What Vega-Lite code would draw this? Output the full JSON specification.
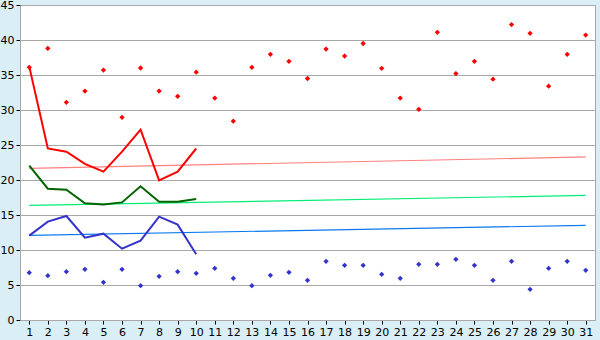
{
  "$schema": "https://vega.github.io/schema/vega-lite/v6.json",
  "width": 575,
  "height": 315,
  "autosize": {"type": "none"},
  "padding": {"left": 20, "top": 5, "right": 5, "bottom": 20},
  "background": "#d9eef5",
  "config": {
    "view": {"fill": "white", "stroke": "#a8a8a8", "strokeWidth": 1},
    "axis": {"labelFont": "DejaVu Sans", "labelFontSize": 11, "labelColor": "#000000", "domainColor": "#a8a8a8", "tickColor": "#000000", "tickSize": 4, "gridColor": "#a8a8a8", "gridOpacity": 1, "title": null, "labelOverlap": false},
    "axisY": {"tickCount": 9, "labelFlush": false, "labelPadding": 2}
  },
  "datasets": {
    "days": [
      {"day": 1, "hi": 36.1, "lo": 6.76, "red": 36.2, "green": 22.05, "blue": 12.05},
      {"day": 2, "hi": 38.8, "lo": 6.33, "red": 24.5, "green": 18.76, "blue": 14.05},
      {"day": 3, "hi": 31.1, "lo": 6.9, "red": 24.05, "green": 18.6, "blue": 14.86},
      {"day": 4, "hi": 32.7, "lo": 7.24, "red": 22.3, "green": 16.67, "blue": 11.76},
      {"day": 5, "hi": 35.7, "lo": 5.38, "red": 21.2, "green": 16.5, "blue": 12.33},
      {"day": 6, "hi": 28.95, "lo": 7.24, "red": 24.05, "green": 16.8, "blue": 10.19},
      {"day": 7, "hi": 36.0, "lo": 4.9, "red": 27.2, "green": 19.1, "blue": 11.33},
      {"day": 8, "hi": 32.7, "lo": 6.24, "red": 19.95, "green": 16.9, "blue": 14.76},
      {"day": 9, "hi": 31.95, "lo": 6.9, "red": 21.2, "green": 16.9, "blue": 13.62},
      {"day": 10, "hi": 35.4, "lo": 6.67, "red": 24.5, "green": 17.3, "blue": 9.38},
      {"day": 11, "hi": 31.7, "lo": 7.38},
      {"day": 12, "hi": 28.4, "lo": 5.95},
      {"day": 13, "hi": 36.1, "lo": 4.9},
      {"day": 14, "hi": 37.95, "lo": 6.38},
      {"day": 15, "hi": 36.95, "lo": 6.81},
      {"day": 16, "hi": 34.5, "lo": 5.67},
      {"day": 17, "hi": 38.7, "lo": 8.38},
      {"day": 18, "hi": 37.7, "lo": 7.81},
      {"day": 19, "hi": 39.5, "lo": 7.81},
      {"day": 20, "hi": 35.95, "lo": 6.52},
      {"day": 21, "hi": 31.7, "lo": 5.95},
      {"day": 22, "hi": 30.1, "lo": 7.95},
      {"day": 23, "hi": 41.1, "lo": 7.95},
      {"day": 24, "hi": 35.2, "lo": 8.67},
      {"day": 25, "hi": 36.95, "lo": 7.81},
      {"day": 26, "hi": 34.4, "lo": 5.67},
      {"day": 27, "hi": 42.2, "lo": 8.38},
      {"day": 28, "hi": 40.95, "lo": 4.38},
      {"day": 29, "hi": 33.4, "lo": 7.38},
      {"day": 30, "hi": 37.95, "lo": 8.38},
      {"day": 31, "hi": 40.7, "lo": 7.1}
    ],
    "trend": [
      {"day": 1, "tred": 21.67, "tgreen": 16.38, "tblue": 12.1},
      {"day": 31, "tred": 23.29, "tgreen": 17.8, "tblue": 13.52}
    ]
  },
  "encoding": {
    "x": {
      "field": "day", "type": "quantitative",
      "scale": {"domain": [0.5, 31.5], "nice": false, "zero": false},
      "axis": {"values": [1,2,3,4,5,6,7,8,9,10,11,12,13,14,15,16,17,18,19,20,21,22,23,24,25,26,27,28,29,30,31], "grid": false, "labelPadding": 2, "labelFlush": false}
    }
  },
  "layer": [
    {
      "data": {"name": "days"},
      "mark": {"type": "rule", "opacity": 0},
      "encoding": {
        "y": {"field": "hi", "type": "quantitative", "scale": {"domain": [0, 45], "nice": false}, "axis": {"tickCount": 9, "grid": true}}
      }
    },
    {
      "data": {"name": "trend"},
      "mark": {"type": "line", "color": "#ff7f7f", "strokeWidth": 1.2},
      "encoding": {"y": {"field": "tred", "type": "quantitative"}}
    },
    {
      "data": {"name": "trend"},
      "mark": {"type": "line", "color": "#00ee77", "strokeWidth": 1.2},
      "encoding": {"y": {"field": "tgreen", "type": "quantitative"}}
    },
    {
      "data": {"name": "trend"},
      "mark": {"type": "line", "color": "#0a78f0", "strokeWidth": 1.2},
      "encoding": {"y": {"field": "tblue", "type": "quantitative"}}
    },
    {
      "data": {"name": "days"},
      "mark": {"type": "line", "color": "#ff0000", "strokeWidth": 2},
      "encoding": {"y": {"field": "red", "type": "quantitative"}}
    },
    {
      "data": {"name": "days"},
      "mark": {"type": "line", "color": "#006400", "strokeWidth": 2},
      "encoding": {"y": {"field": "green", "type": "quantitative"}}
    },
    {
      "data": {"name": "days"},
      "mark": {"type": "line", "color": "#3333cc", "strokeWidth": 2},
      "encoding": {"y": {"field": "blue", "type": "quantitative"}}
    },
    {
      "data": {"name": "days"},
      "mark": {"type": "point", "shape": "diamond", "filled": true, "opacity": 1, "color": "#ff0000", "size": 28},
      "encoding": {"y": {"field": "hi", "type": "quantitative"}}
    },
    {
      "data": {"name": "days"},
      "mark": {"type": "point", "shape": "diamond", "filled": true, "opacity": 1, "color": "#3333cc", "size": 28},
      "encoding": {"y": {"field": "lo", "type": "quantitative"}}
    }
  ]
}
